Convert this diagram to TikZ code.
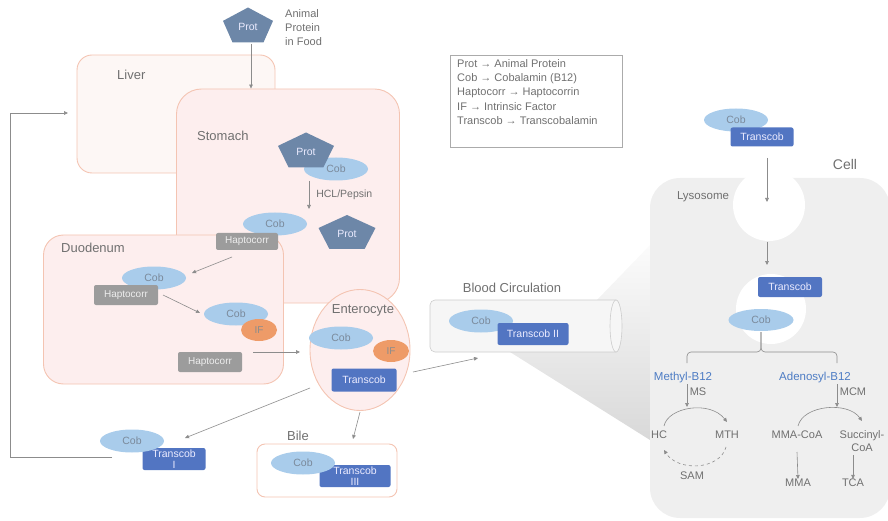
\documentclass[tikz,border=0pt]{standalone}
\usepackage{fontspec}
\setmainfont{Liberation Sans}
\usetikzlibrary{shapes.geometric,arrows.meta,calc}
\definecolor{protc}{HTML}{6D87A8}
\definecolor{cobc}{HTML}{A9CCEB}
\definecolor{cobtxt}{HTML}{7B8A9B}
\definecolor{tcobc}{HTML}{5275C2}
\definecolor{haptc}{HTML}{9C9C9C}
\definecolor{ifc}{HTML}{EE9B68}
\definecolor{organl}{HTML}{F4C4B2}
\definecolor{organf}{HTML}{FDEEEE}
\definecolor{liverf}{HTML}{FDF7F5}
\definecolor{txtc}{HTML}{707070}
\definecolor{arrc}{HTML}{8C8C8C}
\definecolor{bluec}{HTML}{4D7CC4}
\definecolor{cellc}{HTML}{EFEFEF}
\definecolor{cylf}{HTML}{F6F6F6}
\definecolor{cyld}{HTML}{CCCCCC}
\definecolor{legc}{HTML}{ABABAB}
\tikzset{
  arr/.style={draw=arrc, line width=0.6pt, -{Triangle[length=4pt,width=3.6pt]}},
  cob/.style={ellipse, fill=cobc, minimum width=64pt, minimum height=23pt, inner sep=0pt,
    text=cobtxt, font=\fontsize{10.5}{11}\selectfont},
  tcob/.style={rectangle, rounded corners=2pt, fill=tcobc, text=white!92!blue, minimum width=64pt,
    minimum height=20pt, inner sep=0pt, align=center, font=\fontsize{10.5}{11}\selectfont},
  hapt/.style={rectangle, rounded corners=2pt, fill=haptc, text=white!93!black, minimum width=64pt,
    minimum height=20pt, inner sep=0pt, font=\fontsize{10}{11}\selectfont},
  ifn/.style={ellipse, fill=ifc, minimum width=36pt, minimum height=22pt, inner sep=0pt,
    text=black!45, font=\fontsize{10}{11}\selectfont},
  prottxt/.style={text=white!92!blue, inner sep=0pt, font=\fontsize{10.5}{11}\selectfont},
  organ/.style={draw=organl, fill=organf, line width=0.9pt, inner sep=0pt},
  lbl/.style={text=txtc, inner sep=0pt, font=\fontsize{13}{15}\selectfont},
  txt/.style={text=txtc, inner sep=0pt, font=\fontsize{11}{13}\selectfont},
  bluelbl/.style={text=bluec, inner sep=0pt, font=\fontsize{11.5}{13}\selectfont},
}
% pentagon with a named text node: name, x, y, width, height
\newcommand\protpent[5]{%
  \fill[protc] (#2,#3-#5/2) -- (#2+#4/2,#3-#5/2+0.382*#5) -- (#2+0.309*#4,#3+#5/2)
    -- (#2-0.309*#4,#3+#5/2) -- (#2-#4/2,#3-#5/2+0.382*#5) -- cycle;
  \node[prottxt] (#1) at (#2,#3+2) {Prot};}
\begin{document}
\begin{tikzpicture}[x=1pt,y=-1pt]
  \useasboundingbox (0,0) rectangle (888,521);

  % organs
  \node[organ, fill=liverf, rounded corners=15pt, minimum width=198pt, minimum height=118pt] (liver) at (176,114) {};
  \node[organ, rounded corners=25pt, minimum width=223pt, minimum height=214pt] (stomach) at (288,196) {};
  \node[organ, rounded corners=20pt, minimum width=240pt, minimum height=149pt] (duod) at (163.5,309.5) {};
  \node[lbl, anchor=west] (liverL) at (117,75) {Liver};
  \node[lbl, anchor=west] (stomL) at (197,136) {Stomach};
  \node[lbl, anchor=west] (duodL) at (61,248) {Duodenum};

  % food
  \protpent{protA}{248}{25}{50}{35}
  \node[txt, anchor=north west, align=left, font=\fontsize{11}{14}\selectfont] (food) at (285,9) {Animal\\Protein\\in Food};
  \coordinate (protAB) at (251,44);
  \draw[arr] (protAB) -- (protAB |- stomach.north);

  % stomach
  \node[cob] (cobB) at (336,169) {Cob};
  \protpent{protB}{306}{150}{56}{35}
  \coordinate (hclA) at (309,181);
  \coordinate (hclB) at (309,209);
  \draw[arr] (hclA) -- node[txt, right=7pt, font=\fontsize{10.5}{11}\selectfont] (hcl) {HCL/Pepsin} (hclB);
  \node[cob] (cobC) at (275,224) {Cob};
  \node[hapt, minimum width=62pt, minimum height=17pt] (haptC) at (247,241.5) {Haptocorr};
  \protpent{protC}{347}{232}{57}{34}

  % duodenum
  \node[cob] (cobD) at (154,278) {Cob};
  \node[hapt] (haptD) at (126,295) {Haptocorr};
  \coordinate (dA) at (232,257);
  \coordinate (dB) at (192,273);
  \draw[arr] (dA) -- (dB);
  \coordinate (dC) at (163,295);
  \coordinate (dD) at (200,313);
  \draw[arr] (dC) -- (dD);
  \node[cob] (cobE) at (236,314) {Cob};
  \node[ifn] (ifE) at (259,330) {IF};
  \node[hapt] (haptE) at (210,362) {Haptocorr};
  \coordinate (dE) at (253,352);
  \coordinate (dF) at (300,352);
  \draw[arr] (dE) -- (dF);

  % enterocyte
  \node[organ, ellipse, minimum width=100pt, minimum height=121pt] (entero) at (360,350) {};
  \node[lbl] (enteroL) at (363,310) {Enterocyte};
  \node[cob] (cobF) at (341,338) {Cob};
  \node[ifn] (ifF) at (391,351) {IF};
  \node[tcob, minimum width=65pt, minimum height=23pt] (tcobF) at (364,380) {Transcob};
  \coordinate (eA) at (310,388);
  \coordinate (eB) at (185,438);
  \draw[arr] (eA) -- (eB);
  \coordinate (eC) at (360,412);
  \coordinate (eD) at (353,439);
  \draw[arr] (eC) -- (eD);
  \coordinate (eE) at (413,372);
  \coordinate (eF) at (478,358);
  \draw[arr] (eE) -- (eF);

  % transcobalamin I, back to the liver
  \node[tcob, minimum width=63pt, minimum height=22pt] (tcobI) at (174,459) {Transcob\\I};
  \node[cob] (cobI) at (132,441) {Cob};
  \coordinate (fbA) at (112,457);
  \coordinate (fbB) at (10,113);
  \coordinate (fbC) at (68,113);
  \draw[arr] (fbA) -| (fbB) -- (fbC);

  % bile
  \node[lbl] (bileL) at (298,436) {Bile};
  \node[draw=organl, fill=white, line width=0.9pt, rounded corners=8pt, minimum width=140pt, minimum height=53pt] (bile) at (327,470.5) {};
  \node[tcob, minimum width=71pt, minimum height=22pt] (tcobIII) at (355,476) {Transcob\\III};
  \node[cob] (cobIII) at (303,463) {Cob};

  % legend
  \node[draw=legc, line width=0.6pt, minimum width=172pt, minimum height=92pt, anchor=north west] (legend) at (450,55) {};
  \node[txt, anchor=north west, align=left, font=\fontsize{11}{14.3}\selectfont] (legendT) at (457,59)
    {Prot → Animal Protein\\Cob → Cobalamin (B12)\\Haptocorr → Haptocorrin\\IF → Intrinsic Factor\\Transcob → Transcobalamin};

  % blood circulation
  \shade[top color=gray!3, bottom color=gray!30] (597,300) -- (650,245) -- (650,440) -- (510,352) -- cycle;
  \filldraw[draw=cyld, fill=cylf, line width=0.6pt] (616,300) [rounded corners=5pt] -- (430,300) -- (430,352) [sharp corners] -- (616,352) -- cycle;
  \filldraw[draw=cyld, fill=cylf, line width=0.6pt] (616,326) ellipse [x radius=6pt, y radius=26pt];
  \node[lbl] (bloodL) at (512,288) {Blood Circulation};
  \node[cob] (cobII) at (481,321) {Cob};
  \node[tcob, minimum width=71pt, minimum height=22pt] (tcobII) at (533,334) {Transcob II};

  % cell
  \fill[cellc, rounded corners=30pt] (650,178) rectangle (890,518);
  \fill[white] (769,205) circle (36pt);
  \fill[white] (771,309) circle (35pt);
  \node[lbl, font=\fontsize{14}{16}\selectfont] (cellL) at (845,164) {Cell};
  \node[txt, font=\fontsize{11.5}{13}\selectfont] (lysoL) at (703,197) {Lysosome};
  \node[cob] (cobT) at (736,120) {Cob};
  \node[tcob, minimum width=63pt, minimum height=19pt] (tcobT) at (762,137) {Transcob};
  \coordinate (cA) at (767,158);
  \coordinate (cB) at (767,202);
  \draw[arr] (cA) -- (cB);
  \coordinate (cC) at (767,242);
  \coordinate (cD) at (767,265);
  \draw[arr] (cC) -- (cD);
  \node[tcob] (tcobP) at (790,287) {Transcob};
  \node[cob, minimum width=65pt, minimum height=22pt] (cobP) at (761,320) {Cob};

  % branches
  \coordinate (brT) at (761,332);
  \coordinate (brL) at (687,363);
  \coordinate (brR) at (837,363);
  \draw[arrc, line width=0.6pt, rounded corners=4pt] (brT) |- ($(brL)+(0,-11)$) -- (brL);
  \draw[arrc, line width=0.6pt, rounded corners=4pt] (brT) |- ($(brR)+(0,-11)$) -- (brR);
  \node[bluelbl] (methyl) at (683,378) {Methyl-B12};
  \node[bluelbl] (adeno) at (815,378) {Adenosyl-B12};
  \node[txt] (ms) at (698,392) {MS};
  \node[txt] (mcm) at (853,392) {MCM};
  \coordinate (mA) at (687,384);
  \coordinate (mB) at (687,407);
  \draw[arr] (mA) -- (mB);
  \coordinate (aA) at (837,384);
  \coordinate (aB) at (837,407);
  \draw[arr] (aA) -- (aB);

  % methyl cycle
  \node[txt] (hc) at (659,435) {HC};
  \node[txt] (mth) at (727,435) {MTH};
  \node[txt] (sam) at (692,476) {SAM};
  \coordinate (hcT) at (664,426);
  \coordinate (mthT) at (727,422);
  \coordinate (mthB) at (726,447);
  \coordinate (hcB) at (664,450);
  \draw[arr] (hcT) .. controls (668,407) and (710,400) .. (mthT);
  \draw[arr, dashed] (mthB) .. controls (720,470) and (678,472) .. (hcB);

  % adenosyl branch
  \node[txt] (mmacoa) at (797,435) {MMA-CoA};
  \node[txt, align=center, font=\fontsize{11}{12.5}\selectfont] (succ) at (862,441) {Succinyl-\\CoA};
  \coordinate (mcT) at (798,426);
  \coordinate (scT) at (862,421);
  \draw[arr] (mcT) .. controls (803,405) and (848,401) .. (scT);
  \node[txt] (mma) at (798,483) {MMA};
  \node[txt] (tca) at (853,483) {TCA};
  \draw[arr] (mmacoa.south |- 0,452) -- (mma.north);
  \draw[arr] (853,455) -- (tca.north);
\end{tikzpicture}
\end{document}
